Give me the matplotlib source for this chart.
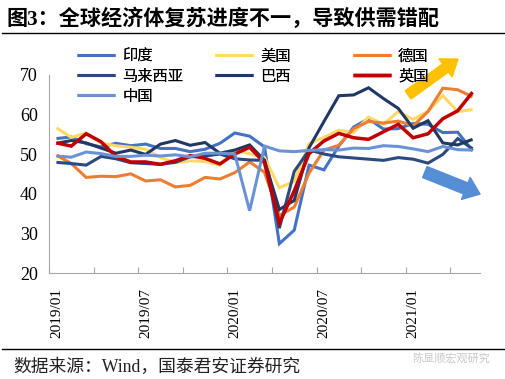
import matplotlib
matplotlib.use("Agg")
import matplotlib.pyplot as plt
from matplotlib.lines import Line2D

# PMI readings, 2019/01 - 2021/05
months = [
    "2019/01", "2019/02", "2019/03", "2019/04", "2019/05", "2019/06",
    "2019/07", "2019/08", "2019/09", "2019/10", "2019/11", "2019/12",
    "2020/01", "2020/02", "2020/03", "2020/04", "2020/05", "2020/06",
    "2020/07", "2020/08", "2020/09", "2020/10", "2020/11", "2020/12",
    "2021/01", "2021/02", "2021/03", "2021/04", "2021/05",
]
label_months = ["2019/01", "2019/07", "2020/01", "2020/07", "2021/01"]

india = [53.9, 54.3, 52.6, 51.8, 52.7, 52.1, 52.5, 51.4, 51.4, 50.6, 51.2, 52.7,
         55.3, 54.5, 51.8, 27.4, 30.8, 47.2, 46.0, 52.0, 56.8, 58.9, 56.3, 56.4,
         57.7, 57.5, 55.4, 55.5, 50.8]
usa = [56.6, 54.2, 55.3, 52.8, 52.1, 51.7, 51.2, 49.1, 47.8, 48.3, 48.1, 47.2,
       50.9, 50.1, 49.1, 41.5, 43.1, 52.6, 54.2, 56.0, 55.4, 59.3, 57.5, 60.7,
       58.7, 60.8, 64.7, 60.7, 61.2]
germany = [49.7, 47.6, 44.1, 44.4, 44.3, 45.0, 43.2, 43.5, 41.7, 42.1, 44.1, 43.7,
           45.3, 48.0, 45.4, 34.5, 36.6, 45.2, 51.0, 52.2, 56.4, 58.2, 57.8, 58.3,
           57.1, 60.7, 66.6, 66.2, 64.4]
malaysia = [47.9, 47.6, 47.2, 49.4, 48.8, 47.8, 47.6, 47.4, 47.9, 49.3, 49.5, 50.0,
            48.8, 48.5, 48.4, 31.3, 45.6, 51.0, 50.0, 49.3, 49.0, 48.7, 48.4, 49.1,
            48.7, 47.7, 49.9, 53.9, 51.3]
brazil = [52.7, 53.4, 52.8, 51.5, 50.2, 51.0, 49.9, 52.5, 53.4, 52.2, 52.9, 50.2,
          51.0, 52.3, 48.4, 36.0, 38.3, 51.6, 58.2, 64.7, 64.9, 66.7, 64.0, 61.5,
          56.5, 58.4, 52.8, 52.3, 53.7]
uk = [52.8, 52.0, 55.1, 53.1, 49.4, 48.0, 48.0, 47.4, 48.3, 49.6, 48.9, 47.5,
      50.0, 51.7, 47.8, 32.6, 40.7, 50.1, 53.3, 55.2, 54.1, 53.7, 55.6, 57.5,
      54.1, 55.1, 58.9, 60.9, 65.6]
china = [49.5, 49.2, 50.5, 50.1, 49.4, 49.4, 49.7, 49.5, 49.8, 49.3, 50.2, 50.2,
         50.0, 35.7, 52.0, 50.8, 50.6, 50.9, 51.1, 51.0, 51.5, 51.4, 52.1, 51.9,
         51.3, 50.6, 51.9, 51.1, 51.0]

series = [
    ("印度", india, "#4472C4", 2.2),
    ("美国", usa, "#FFD966", 2.2),
    ("德国", germany, "#ED7D31", 2.2),
    ("马来西亚", malaysia, "#2B4A80", 2.2),
    ("巴西", brazil, "#1F3864", 2.2),
    ("英国", uk, "#C00000", 2.5),
    ("中国", china, "#6A93D6", 2.2),
]
legend_cols = [["印度", "马来西亚", "中国"], ["美国", "巴西"], ["德国", "英国"]]

CJK = ["Noto Sans CJK SC", "DejaVu Sans"]
SERIF_CJK = ["Liberation Serif", "Noto Sans CJK SC"]


def main() -> None:
    fig = plt.figure(figsize=(5.05, 3.79), dpi=100)
    ax = fig.add_axes([49 / 505, 1 - 273 / 379, 431 / 505, 198.3 / 379])

    x = list(range(len(months)))
    handles = {}
    for name, vals, color, lw in series:
        (ln,) = ax.plot(x, vals, color=color, lw=lw, solid_joinstyle="miter",
                        solid_capstyle="butt", label=name)
        handles[name] = ln

    ax.set_xlim(-0.5, len(months) - 0.5)
    ax.set_ylim(20, 70)
    ax.set_yticks([20, 30, 40, 50, 60, 70])
    ax.tick_params(axis="y", length=0, pad=8)
    for t in ax.get_yticklabels():
        t.set_fontfamily("Liberation Serif")
        t.set_fontsize(13)

    label_pos = [months.index(m) for m in label_months]
    ax.set_xticks(label_pos)
    ax.set_xticklabels(label_months, rotation=90, fontfamily="Liberation Serif",
                       fontsize=11, va="top")
    ax.tick_params(axis="x", which="major", length=0, pad=11)
    ax.set_xticks([i - 0.5 for i in range(0, len(months), 3)], minor=True)
    ax.tick_params(axis="x", which="minor", length=4, direction="in",
                   color="#A6A6A6", width=0.8)

    for side in ("top", "right"):
        ax.spines[side].set_visible(False)
    for side in ("left", "bottom"):
        ax.spines[side].set_color("#A6A6A6")
        ax.spines[side].set_linewidth(0.8)

    # legend: three fixed-width columns like the original
    col_x = [77 / 505, 215 / 505, 353 / 505]
    for cx, names in zip(col_x, legend_cols):
        leg = fig.legend([handles[n] for n in names], names, loc="upper left",
                         bbox_to_anchor=(cx, 1 - 47.5 / 379), frameon=False,
                         borderpad=0, borderaxespad=0, handlelength=2.5,
                         handletextpad=0.45, labelspacing=0.2,
                         prop={"family": CJK, "size": 11})
        fig.add_artist(leg)

    # trend arrows
    ax.annotate("", xy=(0.949, 1.079), xytext=(0.833, 0.898),
                xycoords="axes fraction", annotation_clip=False,
                arrowprops=dict(arrowstyle="simple,tail_width=0.72,head_width=1.6,head_length=1.1",
                                color="#FFC000", shrinkA=0, shrinkB=0,
                                mutation_scale=10))
    ax.annotate("", xy=(1.0, 0.398), xytext=(0.872, 0.509),
                xycoords="axes fraction", annotation_clip=False,
                arrowprops=dict(arrowstyle="simple,tail_width=0.85,head_width=1.7,head_length=1.1",
                                color="#558ED5", shrinkA=0, shrinkB=0,
                                mutation_scale=10))

    # title, rules and source
    fig.text(7 / 505, 1 - 19 / 379, "图3：全球经济体复苏进度不一，导致供需错配",
             fontsize=15.2, fontweight="bold", family=SERIF_CJK, va="center")
    fig.add_artist(Line2D([2 / 505, 1], [1 - 33 / 379] * 2, color="black", lw=1))
    fig.add_artist(Line2D([2 / 505, 1], [1 - 349 / 379] * 2, color="black", lw=1))
    fig.text(13 / 505, 1 - 367 / 379, "数据来源：Wind，国泰君安证券研究",
             fontsize=12.8, family=SERIF_CJK, va="center", color="#222222")
    fig.text(412 / 505, 1 - 358 / 379, "陈显顺宏观研究", fontsize=8,
             family=CJK, va="center", color="#C8C8C8")

    fig.savefig("out.png", dpi=100)
    plt.close(fig)


if __name__ == "__main__":
    main()
